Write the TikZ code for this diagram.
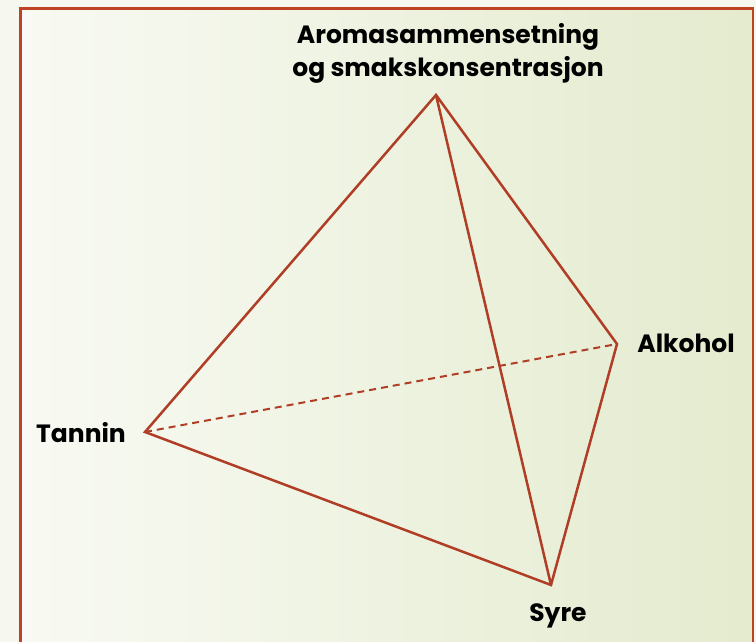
\documentclass[tikz,border=0pt]{standalone}
\usepackage{fontspec}
\setmainfont{Poppins}
\definecolor{edge}{RGB}{176,62,38}
\definecolor{frame}{RGB}{192,66,36}
\definecolor{bgout}{RGB}{246,248,240}
\definecolor{bgl}{RGB}{248,250,243}
\definecolor{bgm}{RGB}{236,242,219}
\definecolor{bgr}{RGB}{228,235,206}
\tikzset{
  lbl/.style={font=\bfseries\fontsize{25}{33}\selectfont, text=black, inner sep=0pt, align=center},
  edgeline/.style={draw=edge, line width=2.5pt},
  dashline/.style={edgeline, line width=2pt, dash pattern=on 7pt off 5pt},
}
\begin{document}
\begin{tikzpicture}[x=1pt,y=1pt]
\useasboundingbox (0,0) rectangle (756,642);
\fill[bgout] (0,0) rectangle (756,642);
\shade[left color=bgl, middle color=bgm, right color=bgr] (20.5,-5) rectangle (753,633.5);
\draw[frame, line width=2.5pt] (20.5,-5) -- (20.5,633.5) -- (753,633.5) -- (753,-5);
\coordinate (T) at (436,547);
\coordinate (Ta) at (145,210);
\coordinate (Al) at (617,298);
\coordinate (Sy) at (551,57);
\draw[dashline] (Ta) -- (Al);
\draw[edgeline, line join=miter] (T) -- (Ta) -- (Sy) -- (Al) -- cycle;
\draw[edgeline] (T) -- (Sy);
\node[lbl] (top) at (448,589) {Aromasammensetning\\og smakskonsentrasjon};
\node[lbl] (tan) at (81,209) {Tannin};
\node[lbl] (alk) at (686,299) {Alkohol};
\node[lbl] (syr) at (558,26) {Syre};
\end{tikzpicture}
\end{document}
